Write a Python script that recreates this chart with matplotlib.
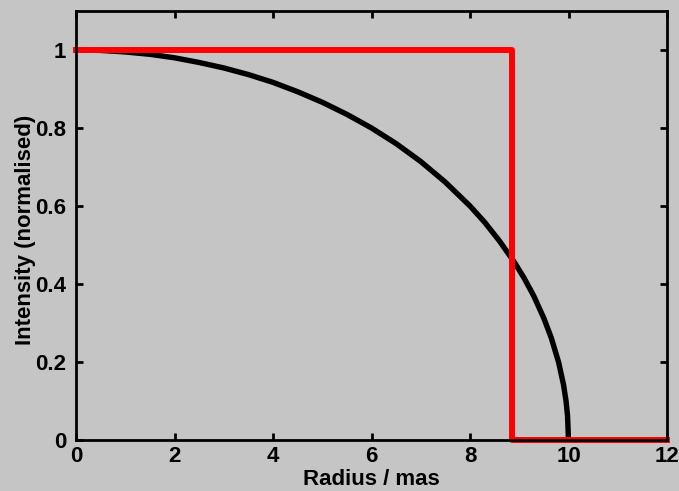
import matplotlib
matplotlib.use('Agg')
import matplotlib.pyplot as plt
from matplotlib.ticker import FuncFormatter

# limb profile (radius in mas, normalised intensity)
disk_r = [0.0, 0.5, 1.0, 1.5, 2.0, 2.5, 3.0, 3.5, 4.0, 4.5, 5.0, 5.5, 6.0,
          6.5, 7.0, 7.5, 8.0, 8.3, 8.6, 8.9, 9.1, 9.3, 9.5, 9.65, 9.8,
          9.9, 9.95, 9.98, 10.0]
disk_i = [1.0, 0.999, 0.995, 0.989, 0.980, 0.968, 0.954, 0.937, 0.917,
          0.893, 0.866, 0.835, 0.800, 0.760, 0.714, 0.661, 0.600, 0.558,
          0.510, 0.456, 0.415, 0.368, 0.312, 0.262, 0.199, 0.141, 0.100,
          0.063, 0.0]

# uniform disk step
step_r = [0.0, 8.86, 8.86, 12.0]
step_i = [1.0, 1.0, 0.0, 0.0]

xticks = [0, 2, 4, 6, 8, 10, 12]
yticks = [0, 0.2, 0.4, 0.6, 0.8, 1.0]

plt.rcParams['font.family'] = ['Liberation Sans', 'DejaVu Sans']
plt.rcParams['font.weight'] = 'bold'

bg = '#c5c5c5'
fig = plt.figure(figsize=(6.79, 4.91), dpi=100, facecolor=bg)
ax = fig.add_axes([76 / 679, 1 - 440 / 491, 591 / 679, 429 / 491])
ax.set_facecolor(bg)

ax.plot(disk_r, disk_i, color='black', lw=3.9, solid_capstyle='butt', clip_on=False)
ax.plot(step_r, step_i, color='#ff0000', lw=4.3, clip_on=False)

ax.set_xlim(0, 12)
ax.set_ylim(0, 1.1)
ax.set_xticks(xticks)
ax.set_yticks(yticks)
ax.yaxis.set_major_formatter(FuncFormatter(lambda v, p: f'{v:g}'))

for s in ax.spines.values():
    s.set_linewidth(2)
ax.tick_params(direction='in', length=5, width=2, top=True, right=True,
               labelsize=16)
ax.tick_params(axis='x', pad=4)
ax.tick_params(axis='y', pad=7)

ax.set_xlabel('Radius / mas', fontsize=16, fontweight='bold', labelpad=2)
ax.set_ylabel('Intensity (normalised)', fontsize=16, fontweight='bold')
ax.yaxis.set_label_coords(-0.068, 0.49)

fig.savefig('out.png', dpi=100, facecolor=bg)
